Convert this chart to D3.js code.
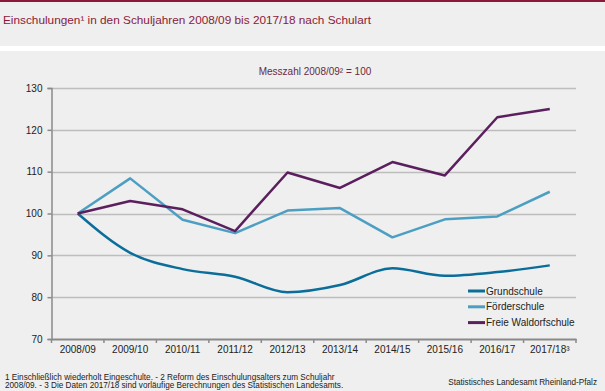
<!DOCTYPE html>
<html>
<head>
<meta charset="utf-8">
<script src="https://cdn.jsdelivr.net/npm/d3@7"></script>
<style>
  body { margin: 0; background: #eeefee; }
  svg { display: block; font-family: "Liberation Sans", Arial, sans-serif; }
</style>
</head>
<body>
<div id="chart"></div>
<script>
const width = 605;
const height = 391;

const years = ["2008/09", "2009/10", "2010/11", "2011/12", "2012/13", "2013/14", "2014/15", "2015/16", "2016/17", "2017/18³"];
const grundschule = [100, 90.6, 86.7, 84.9, 81.2, 82.9, 86.9, 85.1, 86.0, 87.6];
const foerderschule = [100, 108.4, 98.5, 95.3, 100.7, 101.3, 94.3, 98.6, 99.3, 105.2];
const waldorf = [100, 103.0, 101.0, 95.8, 109.8, 106.1, 112.3, 109.1, 123.0, 125.0];
const yTicks = [70, 80, 90, 100, 110, 120, 130];

const series = [
    { name: "Grundschule", values: grundschule, color: "#0a6d9a", smooth: true },
    { name: "Förderschule", values: foerderschule, color: "#4c9fc3", smooth: false },
    { name: "Freie Waldorfschule", values: waldorf, color: "#5b1f5e", smooth: false }
];

const margin = { left: 51.5, right: 29, top: 88, bottom: 52 };

const svg = d3.select("#chart")
    .append("svg")
    .attr("width", width)
    .attr("height", height);

svg.append("rect").attr("width", width).attr("height", height).attr("fill", "#eeefee");
// top border and white separator
svg.append("rect").attr("x", 0).attr("y", 0).attr("width", width).attr("height", 2).attr("fill", "#8b1a3a");
svg.append("rect").attr("x", 0).attr("y", 46).attr("width", width).attr("height", 5).attr("fill", "#ffffff");

svg.append("text")
    .attr("x", 3).attr("y", 24)
    .attr("font-size", 11.8)
    .attr("fill", "#8b1a3a")
    .text("Einschulungen¹ in den Schuljahren 2008/09 bis 2017/18 nach Schulart");

svg.append("text")
    .attr("x", 315).attr("y", 74.5)
    .attr("text-anchor", "middle")
    .attr("font-size", 10)
    .attr("fill", "#6b2a40")
    .text("Messzahl 2008/09² = 100");

const x = d3.scaleBand()
    .domain(years)
    .range([margin.left, width - margin.right]);

const y = d3.scaleLinear()
    .domain([70, 130])
    .range([height - margin.bottom, margin.top]);

// gridlines
svg.append("g")
    .selectAll("line")
    .data(yTicks.filter(d => d !== 70))
    .enter()
    .append("line")
    .attr("x1", margin.left)
    .attr("x2", width - margin.right)
    .attr("y1", d => Math.round(y(d)) + 0.5)
    .attr("y2", d => Math.round(y(d)) + 0.5)
    .attr("stroke", "#bdbdbd")
    .attr("stroke-width", 1.5);

// y axis
const yAxis = svg.append("g")
    .attr("transform", `translate(${margin.left},0)`)
    .call(d3.axisLeft(y).tickValues(yTicks).tickSize(4).tickPadding(5));
yAxis.selectAll("path, line").attr("stroke", "#8a8a8a").attr("stroke-width", 1.5);
yAxis.selectAll("text").attr("font-size", 10).attr("fill", "#222").attr("font-family", "Liberation Sans, Arial, sans-serif");

// x axis
const xAxis = svg.append("g")
    .attr("transform", `translate(0,${y(70)})`)
    .call(d3.axisBottom(x).tickSize(0).tickPadding(7));
xAxis.select("path").attr("stroke", "#8a8a8a").attr("stroke-width", 2);
xAxis.selectAll("text").attr("font-size", 10).attr("fill", "#222").attr("font-family", "Liberation Sans, Arial, sans-serif");
const bounds = years.map(d => x(d)).concat([x.range()[1]]);
xAxis.selectAll(".bound")
    .data(bounds)
    .enter()
    .append("line")
    .attr("x1", d => d).attr("x2", d => d)
    .attr("y1", 0).attr("y2", 4)
    .attr("stroke", "#8a8a8a")
    .attr("stroke-width", 1.5);

// lines
series.forEach(s => {
    const line = d3.line()
        .x((d, i) => x(years[i]) + x.bandwidth() / 2)
        .y(d => y(d))
        .curve(s.smooth ? d3.curveMonotoneX : d3.curveLinear);
    svg.append("path")
        .datum(s.values)
        .attr("fill", "none")
        .attr("stroke", s.color)
        .attr("stroke-width", 2.5)
        .attr("stroke-linejoin", "round")
        .attr("d", line);
});

// legend
const legend = svg.append("g").attr("transform", "translate(468,291)");
series.forEach((s, i) => {
    const g = legend.append("g").attr("transform", `translate(0,${i * 15.8})`);
    g.append("line").attr("x1", 0).attr("x2", 17).attr("y1", 0).attr("y2", 0)
        .attr("stroke", s.color).attr("stroke-width", 3);
    g.append("text").attr("x", 18).attr("y", 3.5)
        .attr("font-size", 10).attr("fill", "#222")
        .text(s.name);
});

// footnotes
svg.append("text").attr("x", 5).attr("y", 379.5).attr("font-size", 8.2).attr("fill", "#222")
    .text("1 Einschließlich wiederholt Eingeschulte. - 2 Reform des Einschulungsalters zum Schuljahr");
svg.append("text").attr("x", 5).attr("y", 388).attr("font-size", 8.2).attr("fill", "#222")
    .text("2008/09. - 3 Die Daten 2017/18 sind vorläufige Berechnungen des Statistischen Landesamts.");
svg.append("text").attr("x", 597).attr("y", 385).attr("text-anchor", "end").attr("font-size", 8.2).attr("fill", "#222")
    .text("Statistisches Landesamt Rheinland-Pfalz");
</script>
</body>
</html>
